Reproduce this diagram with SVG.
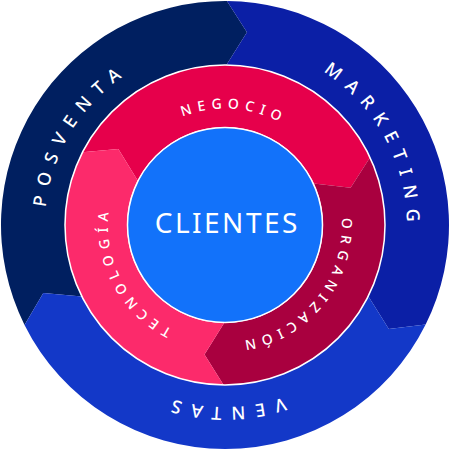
<svg xmlns="http://www.w3.org/2000/svg" width="450" height="450" viewBox="0 0 450 450">
<style>
.lbl{fill:#ffffff;font-family:"Noto Sans","DejaVu Sans",sans-serif;font-weight:500}
.outer{font-size:18px;letter-spacing:9.3px}
.inner{font-size:14px;letter-spacing:5.8px}
.ring{fill:none;stroke:#ffffff;stroke-width:1.5}
</style>
<defs>
<path id="pPos" d="M 128.94 379.57 A 182 182 0 0 1 321.06 70.43"/>
<path id="pMkt" d="M 140.30 63.91 A 182 182 0 0 1 309.70 386.09"/>
<path id="pVen" d="M 407.00 225.83 A 182 182 0 0 1 43.00 224.17"/>
<path id="pNeg" d="M 108.35 215.98 A 117 117 0 0 1 341.65 234.02"/>
<path id="pOrg" d="M 300.08 135.26 A 117 117 0 0 1 149.92 314.74"/>
<path id="pTec" d="M 278.26 329.18 A 117 117 0 0 1 171.74 120.82"/>
</defs>
<g id="posventa">
<path fill="#001f60" d="M 24.53 324.95 A 224 224 0 0 1 226.95 1.01 L 246.96 32.25 L 226.40 65.01 A 160 160 0 0 0 81.81 296.39 L 43.29 292.94 Z"/>
<text class="lbl outer" text-anchor="middle"><textPath href="#pPos" startOffset="50%">POSVENTA</textPath></text>
</g>
<g id="marketing">
<path fill="#0b1fa6" d="M 226.95 1.01 A 224 224 0 0 1 425.64 324.60 L 388.80 328.95 L 368.31 296.14 A 160 160 0 0 0 226.40 65.01 L 246.96 32.25 Z"/>
<text class="lbl outer" text-anchor="middle"><textPath href="#pMkt" startOffset="50%">MARKETING</textPath></text>
</g>
<g id="ventas">
<path fill="#1338c8" d="M 425.64 324.60 A 224 224 0 0 1 24.53 324.95 L 43.29 292.94 L 81.81 296.39 A 160 160 0 0 0 368.31 296.14 L 388.80 328.95 Z"/>
<text class="lbl outer" text-anchor="middle"><textPath href="#pVen" startOffset="50%">VENTAS</textPath></text>
</g>
<g id="negocio">
<path fill="#e6004b" d="M 82.44 152.36 A 160 160 0 0 1 370.01 157.38 L 350.61 187.79 L 313.82 183.58 A 98 98 0 0 0 137.68 180.51 L 118.35 148.93 Z"/>
<text class="lbl inner" text-anchor="middle"><textPath href="#pNeg" startOffset="50%">NEGOCIO</textPath></text>
</g>
<g id="organizacion">
<path fill="#a9003f" d="M 370.01 157.38 A 160 160 0 0 1 223.60 384.99 L 204.51 354.39 L 224.14 323.00 A 98 98 0 0 0 313.82 183.58 L 350.61 187.79 Z"/>
<text class="lbl inner" text-anchor="middle"><textPath href="#pOrg" startOffset="50%">ORGANIZACIÓN</textPath></text>
</g>
<g id="tecnologia">
<path fill="#fc2a6b" d="M 223.60 384.99 A 160 160 0 0 1 82.44 152.36 L 118.35 148.93 L 137.68 180.51 A 98 98 0 0 0 224.14 323.00 L 204.51 354.39 Z"/>
<text class="lbl inner" text-anchor="middle"><textPath href="#pTec" startOffset="50%">TECNOLOGÍA</textPath></text>
</g>
<g id="rings">
<circle class="ring" cx="225" cy="225" r="160"/>
</g>
<g id="clientes">
<circle cx="225" cy="225" r="97.5" fill="#1272fa" stroke="#ffffff" stroke-width="1.5"/>
<text class="lbl" x="227.3" y="233" text-anchor="middle" font-size="28" letter-spacing="2.5" style="font-weight:400">CLIENTES</text>
</g>
</svg>
